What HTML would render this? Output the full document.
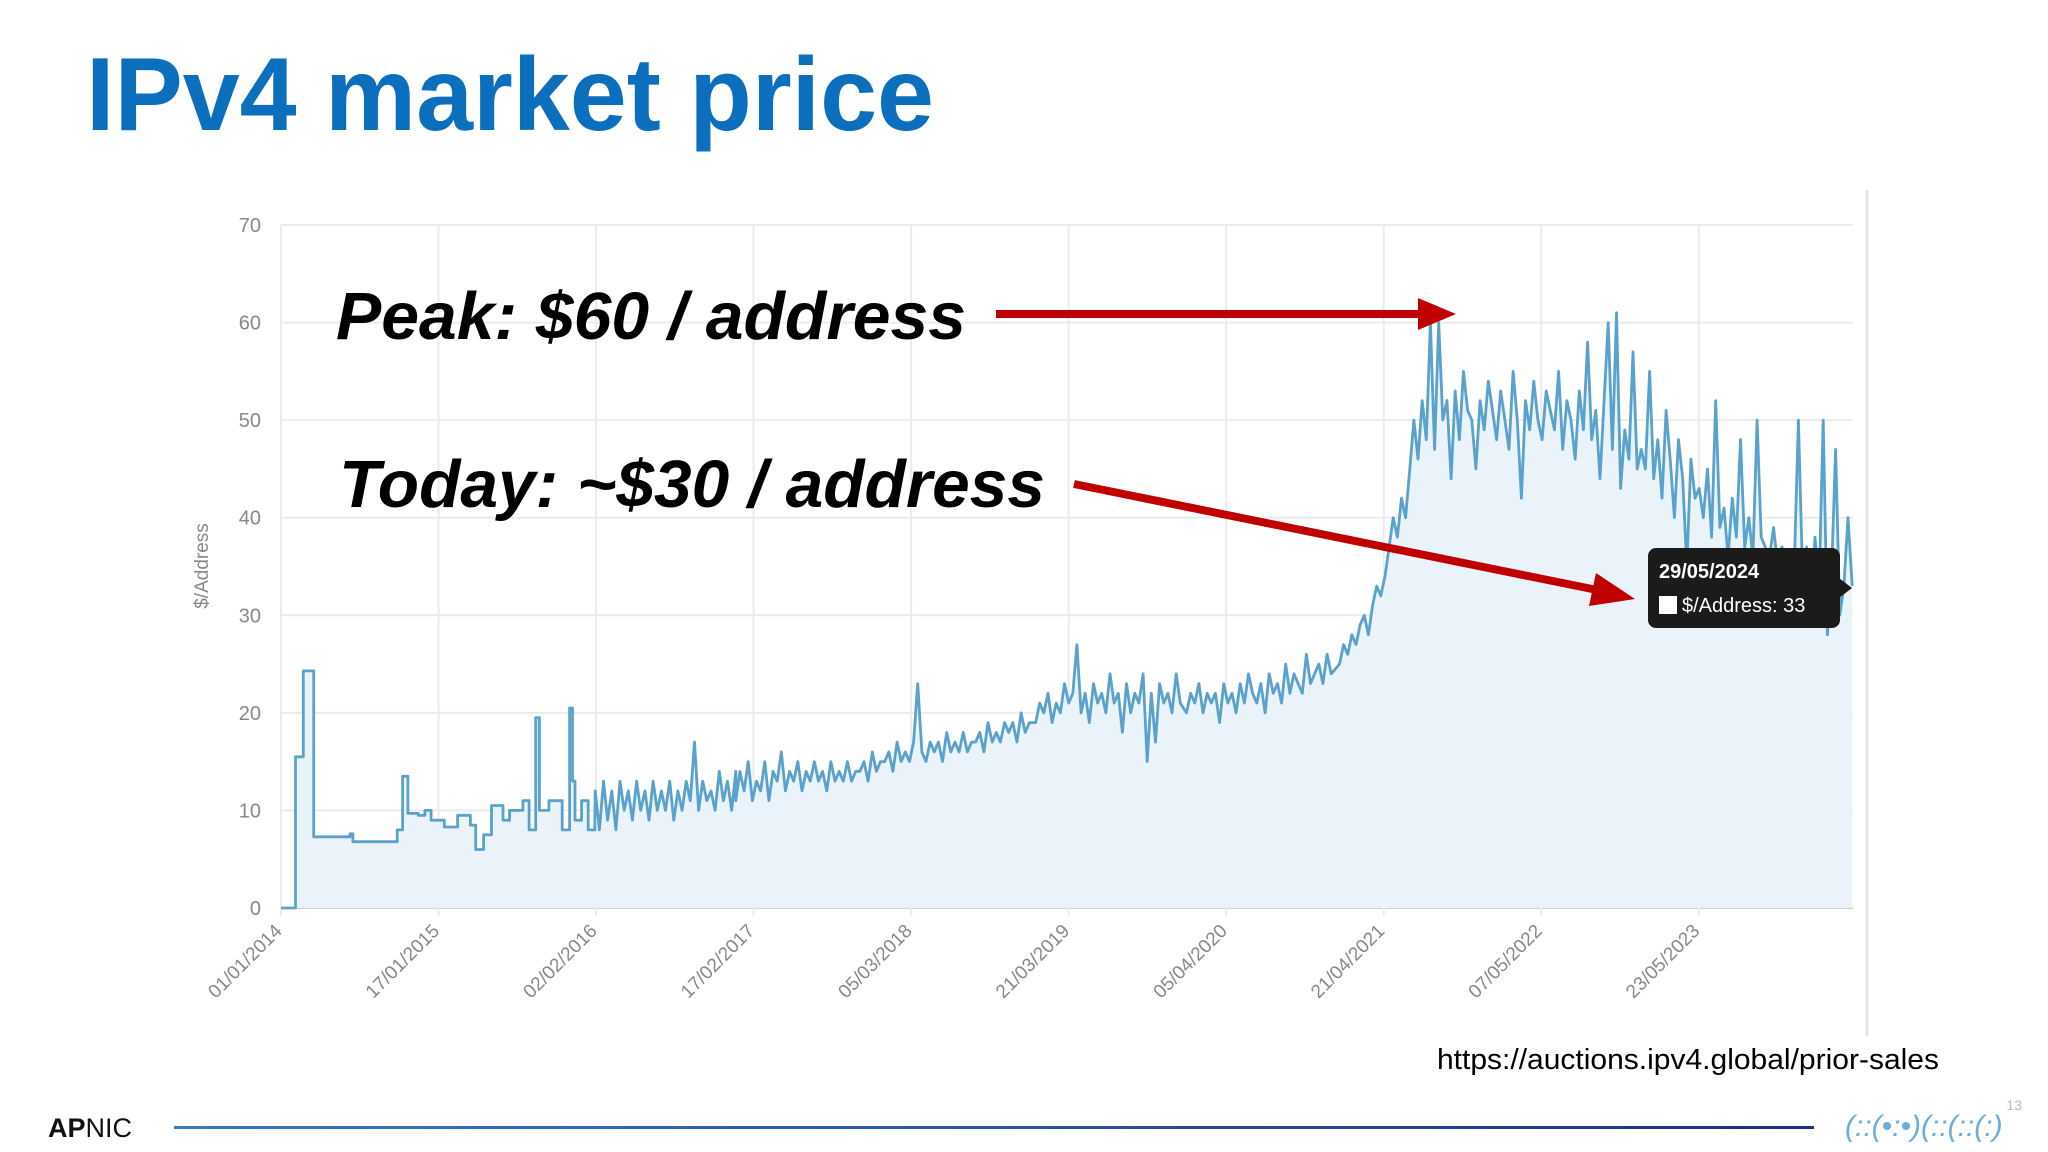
<!DOCTYPE html>
<html><head><meta charset="utf-8"><style>
html,body{margin:0;padding:0;background:#fff;}
svg{display:block;font-family:"Liberation Sans",sans-serif;}
</style></head><body>
<svg id="s" width="2048" height="1152" viewBox="0 0 2048 1152" xmlns="http://www.w3.org/2000/svg">
<text x="86" y="130" font-size="104" font-weight="bold" fill="#0b6fbe" textLength="848" lengthAdjust="spacingAndGlyphs">IPv4 market price</text>
<line x1="1867" y1="190" x2="1867" y2="1036" stroke="#e4e4e4" stroke-width="3"/>
<g id="grid"></g>
<g id="plot"></g>
<g id="axes"></g>
<text transform="translate(208,566) rotate(-90)" text-anchor="middle" font-size="19" fill="#888">$/Address</text>
<text x="336" y="339" font-size="67" font-weight="bold" font-style="italic" fill="#000" textLength="630" lengthAdjust="spacingAndGlyphs">Peak: $60 / address</text>
<text x="339" y="507" font-size="67" font-weight="bold" font-style="italic" fill="#000" textLength="706" lengthAdjust="spacingAndGlyphs">Today: ~$30 / address</text>
<g>
<line x1="996" y1="314" x2="1422" y2="314" stroke="#c00000" stroke-width="8"/>
<polygon points="1418,298 1456,314 1418,330" fill="#c00000"/>
</g>
<g>
<line x1="1074" y1="484" x2="1602" y2="591" stroke="#c00000" stroke-width="8"/>
<polygon points="1596,573 1635,599 1589,606" fill="#c00000"/>
</g>
<g>
<rect x="1648" y="548" width="192" height="80" rx="8" fill="#1b1b1b"/>
<polygon points="1839,578 1852,588 1839,598" fill="#1b1b1b"/>
<text x="1659" y="578" font-size="20" font-weight="bold" fill="#fff">29/05/2024</text>
<rect x="1659" y="596" width="18" height="18" fill="#fff"/>
<text x="1682" y="612" font-size="20" fill="#fff">$/Address: 33</text>
</g>
<text x="1437" y="1069" font-size="29" fill="#000" textLength="502" lengthAdjust="spacingAndGlyphs">https://auctions.ipv4.global/prior-sales</text>
<text x="48" y="1137" font-size="27" font-weight="bold" fill="#111">AP<tspan font-weight="normal">NIC</tspan></text>
<defs><linearGradient id="lg" x1="0" x2="1"><stop offset="0" stop-color="#3a78c8"/><stop offset="1" stop-color="#1a2f8f"/></linearGradient></defs>
<rect x="174" y="1126" width="1640" height="3" fill="url(#lg)"/>
<text x="1845" y="1136" font-size="30" fill="#6aaee0" font-style="italic">(::(•:•)(::(::(:)</text>
<text x="2022" y="1110" font-size="14" fill="#bbb" text-anchor="end">13</text>
</svg>
<script>
const yTicks=[0,10,20,30,40,50,60,70];
const xTickLabels=["01/01/2014","17/01/2015","02/02/2016","17/02/2017","05/03/2018","21/03/2019","05/04/2020","21/04/2021","07/05/2022","23/05/2023"];
const xTickDays=[0,381,762,1143,1524,1905,2286,2667,3048,3429];
const earlyDays=[0,35,35,54,54,79,79,167,167,174,174,281,281,294,294,307,307,332,332,348,348,363,363,395,395,427,427,458,458,471,471,490,490,509,509,537,537,553,553,585,585,600,600,616,616,625,625,648,648,680,680,698,698,705,705,711,711,727,727,743,743,759];
const earlyPrices=[0,0,15.5,15.5,24.3,24.3,7.3,7.3,7.6,7.6,6.8,6.8,8,8,13.5,13.5,9.7,9.7,9.5,9.5,10,10,9,9,8.3,8.3,9.5,9.5,8.5,8.5,6,6,7.5,7.5,10.5,10.5,9,9,10,10,11,11,8,8,19.5,19.5,10,10,11,11,8,8,20.5,20.5,13,13,9,9,11,11,8,8];
const p2016=[12,8,13,9,12,8,13,10,12,9,13,10,12,9,13,10,12,10,13,9,12,10,13,11,17,10,13,11,12,10,14,11,13,10,14];
const p2017=[11,14,12,15,11,13,12,15,11,14,13,16,12,14,13,15,12,14,13,15,13,14,12,15,13,14,13,15,13,14,14,15,13,16,14,15];
const p2018=[15,16,14,17,15,16,15,17,23,16,15,17,16,17,15,18,16,17,16,18,16,17,17,18,16,19,17,18,17,19,18,19,17,20,18,19];
const p2019=[19,21,20,22,19,21,20,23,21,22,27,20,22,19,23,21,22,20,24,21,22,18,23,20,22,21,24,15,22,17,23,21,22,20,24,21];
const p2020=[20,22,21,23,20,22,21,22,19,23,21,22,20,23,21,24,22,21,23,20,24,22,23,21,25,22,24,23,22,26,23,24,25,23,26,24];
const p2021=[25,27,26,28,27,29,30,28,31,33,32,34,37,40,38,42,40,45,50,46,52,48,60,47,60,50,52,44,53,48,55,51,50,45,52,49,54];
const p2022=[51,48,53,50,47,55,50,42,52,49,54,50,48,53,51,49,55,47,52,50,46,53,49,58,48,51,44,52,60,47,61,43,49,46,57,45];
const p2023=[47,45,55,44,48,42,51,46,40,48,44,35,46,42,43,40,45,38,52,39,41,36,42,38,48,37,40,36,50,38,37,36,39,35,37,36];
const p2024=[36,35,50,34,37,30,38,33,50,28,34,47,30,33,40,33];
const NS="http://www.w3.org/2000/svg";
const X0=281,X1=1853,DMAX=3802,Y0=908,Y70=225;
function xs(d){return X0+d*(X1-X0)/DMAX;}
function ys(v){return Y0-v*(Y0-Y70)/70;}
function mk(tag,attrs,parent){const e=document.createElementNS(NS,tag);for(const k in attrs)e.setAttribute(k,attrs[k]);parent.appendChild(e);return e;}
const grid=document.getElementById('grid'),plot=document.getElementById('plot'),axes=document.getElementById('axes');
yTicks.forEach(t=>{
  const l=mk('line',{x1:X0,x2:X1,y1:ys(t),y2:ys(t),stroke:t===0?'#d0d0d0':'#ebebeb','stroke-width':2},grid);
  
  
  const tx=mk('text',{x:X0-20,y:ys(t)+7,'text-anchor':'end','font-size':20,fill:'#888'},axes);
  tx.textContent=t;
  
  
});
xTickDays.forEach((d,i)=>{
  const l=mk('line',{x1:xs(d),x2:xs(d),y1:Y70,y2:Y0+8,stroke:'#ebebeb','stroke-width':2},grid);
  
  
  const tx=mk('text',{transform:`translate(${xs(d)+2},${Y0+24}) rotate(-45)`,'text-anchor':'end','font-size':19,fill:'#888'},axes);
  tx.textContent=xTickLabels[i];
  
  
});
const days=earlyDays.slice(),prices=earlyPrices.slice();
const segs=[[760,p2016],[1100,p2017],[1460,p2018],[1825,p2019],[2190,p2020],[2560,p2021],[2930,p2022],[3290,p2023],[3650,p2024]];
segs.forEach(([s,arr])=>arr.forEach((v,i)=>{days.push(Math.min(s+i*10,DMAX));prices.push(v);}));
let d='';
days.forEach((dd,i)=>{d+=(i?'L':'M')+xs(dd).toFixed(1)+','+ys(prices[i]).toFixed(1);});
const area=mk('path',{d:d+`L${xs(days[days.length-1])},${Y0}L${xs(0)},${Y0}Z`,fill:'#eaf3fa'},plot);


const line=mk('path',{d:d,fill:'none',stroke:'#5aa2cc','stroke-width':2.8,'stroke-linejoin':'round'},plot);


</script>
</body></html>
